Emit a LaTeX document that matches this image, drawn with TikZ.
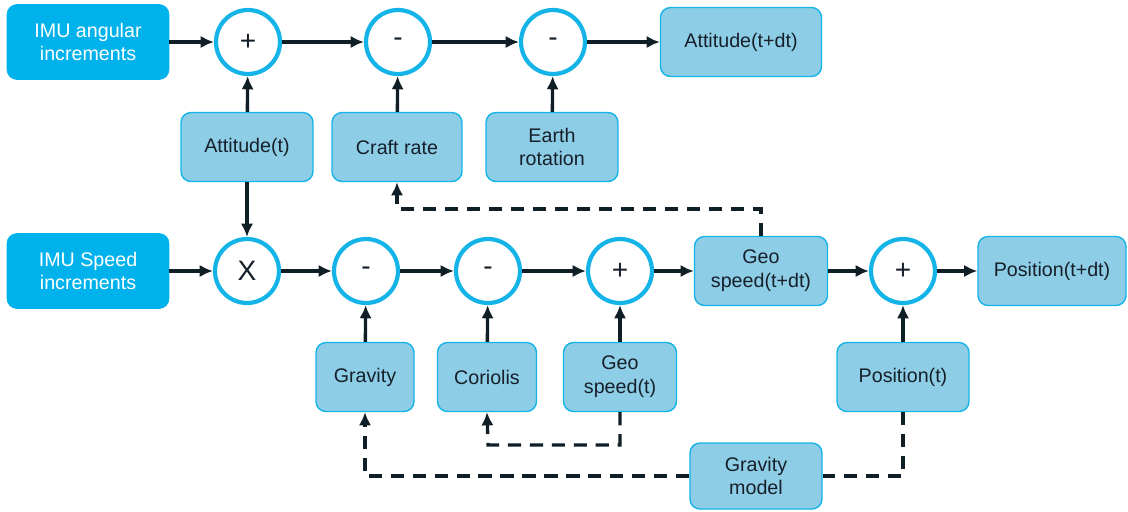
\documentclass[tikz,border=0pt]{standalone}
\usepackage{fontspec}
\setmainfont{Liberation Sans}
\usepackage{tikz}
\usetikzlibrary{arrows.meta}
\usepackage{xcolor}

\definecolor{imublue}{RGB}{0,178,236}
\definecolor{boxblue}{RGB}{142,205,230}
\definecolor{ringblue}{RGB}{20,180,232}
\definecolor{linedark}{RGB}{16,30,40}
\definecolor{textdark}{RGB}{22,32,42}

\tikzset{
  inbox/.style={draw=imublue, fill=imublue, rounded corners=0.2cm, text=white, align=center,
    minimum width=3.24cm, minimum height=1.5cm, font=\fontsize{11.2}{13.5}\selectfont},
  valbox/.style={draw=ringblue, fill=boxblue, line width=0.8pt, rounded corners=0.2cm, text=textdark,
    align=center, minimum height=1.38cm, font=\fontsize{11.2}{13.5}\selectfont},
  op/.style={circle, draw=ringblue, line width=2.4pt, fill=white, minimum size=1.28cm, inner sep=0pt,
    text=textdark, font=\fontsize{16}{16}\selectfont},
  flow/.style={-{Latex[length=7.5pt,width=7pt]}, line width=1.9pt, draw=linedark},
  feed/.style={flow, dash pattern=on 7.5pt off 5pt},
  feedline/.style={line width=1.9pt, draw=linedark, dash pattern=on 7.5pt off 5pt}
}

\begin{document}
\begin{tikzpicture}[x=0.02cm, y=-0.02cm]
        \useasboundingbox (0,0) rectangle (1128,511);

        \node[inbox] (imuang) at (88,42) {IMU angular\\increments};
        \node[op] (sumatt) at (248,42) {+};
        \node[op] (subcraft) at (398,42) {-};
        \node[op] (subearth) at (553,42) {-};
        \node[valbox, minimum width=3.22cm] (attdt) at (741,42) {Attitude(t+dt)};

        \node[valbox, minimum width=2.64cm] (att) at (247,147) {Attitude(t)};
        \node[valbox, minimum width=2.6cm] (craft) at (397,147) {Craft rate};
        \node[valbox, minimum width=2.64cm] (earth) at (552,147) {Earth\\rotation};

        \node[inbox] (imuspd) at (88,271) {IMU Speed\\increments};
        \node[op] (mul) at (247,271) {X};
        \node[op] (subgrav) at (366,271) {-};
        \node[op] (subcor) at (488,271) {-};
        \node[op] (sumgeo) at (620,271) {+};
        \node[valbox, minimum width=2.66cm] (geodt) at (761,271) {Geo\\speed(t+dt)};
        \node[op] (sumpos) at (903,271) {+};
        \node[valbox, minimum width=2.96cm] (posdt) at (1052,271) {Position(t+dt)};

        \node[valbox, minimum width=1.96cm] (grav) at (365,377) {Gravity};
        \node[valbox, minimum width=1.98cm] (cor) at (487,377) {Coriolis};
        \node[valbox, minimum width=2.26cm] (geot) at (620,377) {Geo\\speed(t)};
        \node[valbox, minimum width=2.64cm] (post) at (903,377) {Position(t)};
        \node[valbox, minimum width=2.64cm, minimum height=1.32cm] (gmodel) at (756,476) {Gravity\\model};

        \coordinate (craftturn) at (397,209);
        \coordinate (corturn) at (488,445);

        \draw[flow] (imuang) -- (sumatt);
        \draw[flow] (sumatt) -- (subcraft);
        \draw[flow] (subcraft) -- (subearth);
        \draw[flow] (subearth) -- (attdt);
        \draw[flow] (att) -- (sumatt);
        \draw[flow] (craft) -- (subcraft);
        \draw[flow] (earth) -- (subearth);
        \draw[flow] (att) -- (mul);

        \draw[flow] (imuspd) -- (mul);
        \draw[flow] (mul) -- (subgrav);
        \draw[flow] (subgrav) -- (subcor);
        \draw[flow] (subcor) -- (sumgeo);
        \draw[flow] (sumgeo) -- (geodt);
        \draw[flow] (geodt) -- (sumpos);
        \draw[flow] (sumpos) -- (posdt);
        \draw[flow] (grav) -- (subgrav);
        \draw[flow] (cor) -- (subcor);
        \draw[flow] (geot) -- (sumgeo);
        \draw[flow] (post) -- (sumpos);

        \draw[feed] (geodt.north) |- (craftturn) -- (craft.south);
        \draw[feed] (geot.south) |- (corturn) -- (cor.south);
        \draw[feed] (gmodel.west) -| (grav.south);
        \draw[feedline] (post.south) |- (gmodel.east);
    \end{tikzpicture}
\end{document}
